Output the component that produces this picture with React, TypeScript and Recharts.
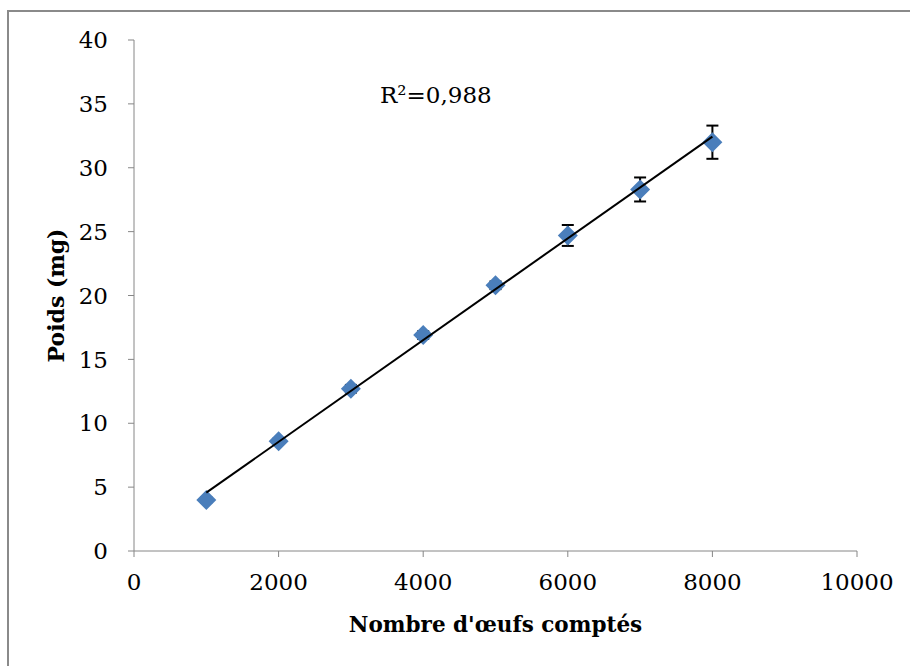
import {
  ScatterChart,
  Scatter,
  XAxis,
  YAxis,
  ErrorBar,
  Label,
} from "recharts";

const eggCounts = [1000, 2000, 3000, 4000, 5000, 6000, 7000, 8000];
const weights = [4.0, 8.6, 12.7, 16.9, 20.8, 24.7, 28.3, 32.0];
const errors = [0.2, 0.2, 0.3, 0.3, 0.3, 0.82, 0.94, 1.3];
const xTicks = [0, 2000, 4000, 6000, 8000, 10000];
const yTicks = [0, 5, 10, 15, 20, 25, 30, 35, 40];

const points = eggCounts.map((x, i) => ({ x, y: weights[i], err: errors[i] }));

// least-squares trend line over the measured points
function trend() {
  const n = eggCounts.length;
  const mx = eggCounts.reduce((a, b) => a + b, 0) / n;
  const my = weights.reduce((a, b) => a + b, 0) / n;
  let sxy = 0;
  let sxx = 0;
  eggCounts.forEach((x, i) => {
    sxy += (x - mx) * (weights[i] - my);
    sxx += (x - mx) * (x - mx);
  });
  const slope = sxy / sxx;
  const x0 = eggCounts[0];
  const x1 = eggCounts[n - 1];
  return [
    { x: x0, y: my + slope * (x0 - mx) },
    { x: x1, y: my + slope * (x1 - mx) },
  ];
}

const FONT = "DejaVu Serif";
const AXIS = "#868686";

const Diamond = (props: any) => {
  const { cx, cy } = props;
  const r = 10;
  return (
    <path
      d={`M${cx},${cy - r}L${cx + r},${cy}L${cx},${cy + r}L${cx - r},${cy}Z`}
      fill="#4a7ebb"
    />
  );
};

const Nothing = () => <g />;

export default function App() {
  return (
    <div style={{ position: "absolute", left: 0, top: 0, width: 910, height: 666, overflow: "hidden", background: "#fff" }}>
      <div
        style={{
          position: "absolute",
          left: 7,
          top: 10,
          width: 920,
          height: 680,
          border: "2px solid #8a8a8a",
        }}
      />
      <ScatterChart
        width={910}
        height={666}
        margin={{ top: 40, right: 53, bottom: 25, left: 34 }}
        style={{ position: "absolute", left: 0, top: 0 }}
      >
        <XAxis
          type="number"
          dataKey="x"
          domain={[0, 10000]}
          ticks={xTicks}
          height={90}
          stroke={AXIS}
          tickSize={6}
          tickMargin={17}
          tick={{ fill: "#000", fontSize: 23, fontFamily: FONT }}
        >
          <Label
            value="Nombre d'œufs comptés"
            position="insideBottom"
            offset={9}
            style={{ fill: "#000", fontSize: 21.5, fontWeight: "bold", fontFamily: FONT }}
          />
        </XAxis>
        <YAxis
          type="number"
          dataKey="y"
          domain={[0, 40]}
          ticks={yTicks}
          width={100}
          stroke={AXIS}
          tickSize={6}
          tickMargin={20}
          tick={{ fill: "#000", fontSize: 23, fontFamily: FONT }}
        >
          <Label
            value="Poids (mg)"
            angle={-90}
            position="insideLeft"
            offset={22}
            style={{ fill: "#000", fontSize: 22, fontWeight: "bold", fontFamily: FONT, textAnchor: "middle" }}
          />
        </YAxis>
        {/* error bars first so the diamonds sit over them */}
        <Scatter data={points} shape={<Nothing />} isAnimationActive={false}>
          <ErrorBar dataKey="err" direction="y" width={6} stroke="#000" strokeWidth={2} />
        </Scatter>
        <Scatter data={points} shape={<Diamond />} isAnimationActive={false} />
        <Scatter
          data={trend()}
          shape={<Nothing />}
          line={{ stroke: "#000", strokeWidth: 2 }}
          isAnimationActive={false}
        />
      </ScatterChart>
      <div
        style={{
          position: "absolute",
          left: 380,
          top: 82,
          fontFamily: FONT,
          fontSize: 23,
          color: "#000",
        }}
      >
        R²=0,988
      </div>
    </div>
  );
}
